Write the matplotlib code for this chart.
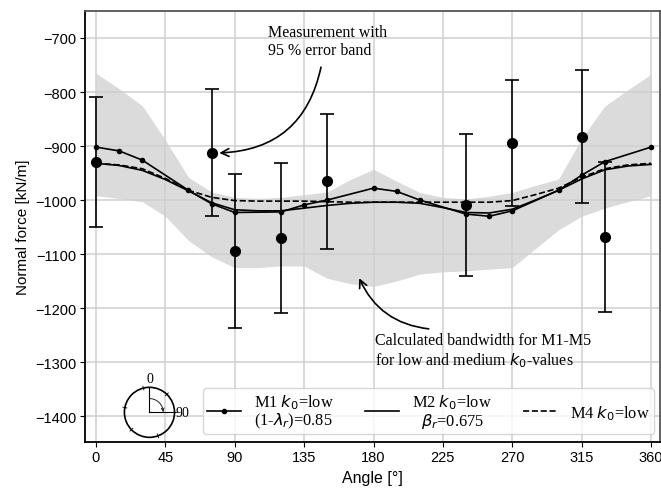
import numpy as np
import matplotlib.pyplot as plt
from matplotlib.patches import Circle, Arc

plt.rcParams['font.family'] = 'sans-serif'
plt.rcParams['font.sans-serif'] = ['Liberation Sans']

# measurements with 95 % error band
meas_angle = [0, 75, 90, 120, 150, 240, 270, 315, 330]
meas_force = [-930, -912, -1094, -1070, -965, -1009, -894, -883, -1069]
meas_err = [120, 118, 142, 139, 125, 131, 117, 123, 139]

# calculated bandwidth M1-M5
band_angle = [0, 15, 30, 45, 60, 75, 90, 105, 120, 135, 150, 165, 180,
              195, 210, 225, 240, 255, 270, 285, 300, 315, 330, 345, 360]
band_upper = [-765, -794, -825, -889, -958, -985, -995, -997, -995, -990, -985, -962, -943,
              -965, -986, -995, -998, -993, -986, -973, -961, -886, -826, -796, -767]
band_lower = [-992, -997, -1003, -1030, -1075, -1105, -1125, -1125, -1122, -1122, -1145, -1155, -1160,
              -1150, -1137, -1133, -1131, -1128, -1125, -1090, -1055, -1030, -1015, -1003, -992]

# M1 k0=low (1-lambda_r)=0.85
m1_angle = [0, 15, 30, 60, 75, 90, 120, 135, 150, 180, 195, 210, 240, 255, 270, 300, 315, 330, 360]
m1_force = [-902, -909, -926, -982, -1007, -1023, -1022, -1009, -1000, -978, -984, -1000,
            -1026, -1030, -1020, -982, -954, -929, -902]

# M2 k0=low beta_r=0.675 and M4 k0=low
model_angle = band_angle
m2_force = [-932, -936, -945, -962, -983, -1005, -1018, -1020, -1020, -1015, -1010, -1006, -1004,
            -1004, -1006, -1014, -1023, -1024, -1017, -1000, -982, -961, -944, -937, -934]
m4_force = [-932, -935, -942, -960, -982, -995, -1001, -1002, -1002, -1002, -1003, -1004, -1004,
            -1004, -1004, -1004, -1004, -1004, -1001, -990, -978, -958, -942, -935, -932]

fig = plt.figure(figsize=(6.61, 4.89), dpi=100)
ax = fig.add_axes([0.1286, 0.094, 0.8699, 0.8815])

ax.grid(True, color='#cfcfcf', lw=1.1, zorder=0)
ax.set_axisbelow(True)
ax.fill_between(band_angle, band_lower, band_upper, color='#cfcfcf', alpha=0.75, lw=0, zorder=1)

ax.plot(m1_angle, m1_force, '-', color='k', lw=1.2, marker='o', ms=3, zorder=3,
        label='M1 $k_0$=low\n(1-$\\lambda_r$)=0.85')
ax.plot(model_angle, m2_force, '-', color='k', lw=1.2, zorder=3,
        label='M2 $k_0$=low\n$\\beta_r$=0.675')
ax.plot(model_angle, m4_force, '--', color='k', lw=1.2, zorder=3, label='M4 $k_0$=low')
ax.errorbar(meas_angle, meas_force, yerr=meas_err, fmt='o', color='k', ms=7,
            elinewidth=1.2, capsize=5, capthick=1.2, zorder=4)

ax.set_xlim(-7.1, 365.8)
ax.set_ylim(-1448, -650)
ax.set_xticks(np.arange(0, 361, 45))
ax.set_yticks(np.arange(-1400, -699, 100))
ax.tick_params(labelsize=10.5, pad=2.5)
ax.set_xlabel('Angle [°]', fontsize=11.5)
ax.set_ylabel('Normal force [kN/m]', fontsize=11)
for s in ['left', 'bottom']:
    ax.spines[s].set_color('k')
    ax.spines[s].set_linewidth(1.3)
for s in ['top', 'right']:
    ax.spines[s].set_color('#555555')
    ax.spines[s].set_linewidth(1.3)

leg = ax.legend(loc='lower right', bbox_to_anchor=(0.9895, 0.0186), ncol=3, borderaxespad=0,
                prop={'family': 'Liberation Serif', 'size': 11.8}, handlelength=2.07,
                handletextpad=0.8, columnspacing=1.9, borderpad=0.25)
for t in leg.get_texts():
    t.set_linespacing(1.0)
leg.get_texts()[1].set_multialignment('center')

serif = {'family': 'Liberation Serif', 'size': 11.5}
ax.text(111.5, -674, 'Measurement with\n95 % error band', va='top', ha='left', fontdict=serif)
ax.annotate('', xy=(78.2, -913), xytext=(146.3, -749),
            arrowprops=dict(arrowstyle='->', color='k', lw=1.2, mutation_scale=14,
                            connectionstyle='arc3,rad=-0.4'))
ax.text(180.8, -1244, 'Calculated bandwidth for M1-M5\nfor low and medium $k_0$-values',
        va='top', ha='left', fontdict=serif)
ax.annotate('', xy=(170, -1140), xytext=(217.6, -1239),
            arrowprops=dict(arrowstyle='->', color='k', lw=1.2, mutation_scale=14,
                            connectionstyle='arc3,rad=-0.3'))

# small angle sketch in the lower left corner
ins = ax.inset_axes([0.0511, -0.0123, 0.122, 0.1624])
ins.set_xlim(-1.4, 1.4)
ins.set_ylim(-1.4, 1.4)
ins.axis('off')
ins.add_patch(Circle((0, 0), 1, fill=False, color='k', lw=1.2))
ins.plot([0, 0], [0, 1], color='k', lw=0.8)
ins.plot([0, 1], [0, 0], color='k', lw=0.8)
ins.add_patch(Arc((0, 0), 1.1, 1.1, theta1=10, theta2=90, color='k', lw=0.6))
ins.annotate('', xy=(0.55, 0.02), xytext=(0.53, 0.14),
             arrowprops=dict(arrowstyle='->', color='k', lw=0.6, mutation_scale=5))
for a in [346, 44, 90, 160, 226, 281]:
    t = np.deg2rad(90 - a)
    ins.plot([0.92 * np.cos(t), 1.08 * np.cos(t)], [0.92 * np.sin(t), 1.08 * np.sin(t)],
             color='k', lw=0.6)
ins.text(0, 1.08, '0', ha='center', va='bottom', family='Liberation Serif', fontsize=10)
ins.text(1.05, 0, '90', ha='left', va='center', family='Liberation Serif', fontsize=10)

fig.savefig('out.png', dpi=100)
